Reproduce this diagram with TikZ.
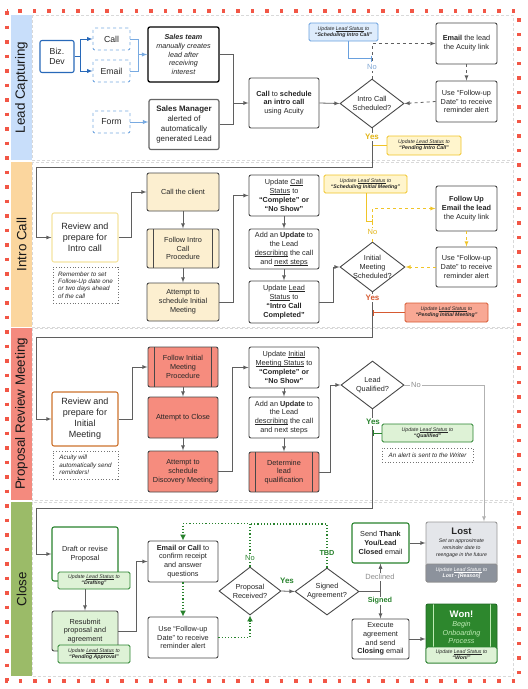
\documentclass[tikz,border=0pt]{standalone}
\usepackage{fontspec}
\setmainfont{Liberation Sans}
\usetikzlibrary{shapes.geometric,arrows.meta}

\definecolor{redbd}{RGB}{242,86,70}
\definecolor{laneblue}{RGB}{200,222,250}
\definecolor{laneorange}{RGB}{251,214,158}
\definecolor{lanesalmon}{RGB}{244,138,126}
\definecolor{lanegreen}{RGB}{155,187,104}
\definecolor{boxgray}{RGB}{72,72,72}
\definecolor{linegray}{RGB}{95,95,95}
\definecolor{bizblue}{RGB}{40,105,185}
\definecolor{dashblue}{RGB}{120,170,225}
\definecolor{updblue}{RGB}{105,160,222}
\definecolor{updbluefill}{RGB}{222,236,252}
\definecolor{nolblue}{RGB}{125,165,212}
\definecolor{yel}{RGB}{240,196,40}
\definecolor{yelfill}{RGB}{255,245,205}
\definecolor{yesyel}{RGB}{226,180,20}
\definecolor{beige}{RGB}{252,239,208}
\definecolor{paleyel}{RGB}{245,228,160}
\definecolor{salmon}{RGB}{246,140,126}
\definecolor{orangebd}{RGB}{205,115,45}
\definecolor{redorange}{RGB}{214,90,50}
\definecolor{redorangefill}{RGB}{248,168,148}
\definecolor{grn}{RGB}{40,130,45}
\definecolor{lgreen}{RGB}{222,242,214}
\definecolor{wongreen}{RGB}{45,135,45}
\definecolor{wonlight}{RGB}{190,235,180}
\definecolor{lostfill}{RGB}{228,230,234}
\definecolor{lostdark}{RGB}{140,146,156}

% underline set close to the baseline
\newcommand{\ulin}[1]{\setbox0=\hbox{#1}\leavevmode\rlap{\rule[-0.13em]{\wd0}{0.06em}}\box0\relax}

\begin{document}
\begin{tikzpicture}[x=1pt,y=-1pt,>=latex,
	base/.style={align=center,text=black!85,inner sep=0pt,
		font=\fontsize{7.3}{8.8}\selectfont},
	sz/.style 2 args={minimum width=#1,minimum height=#2},
	box/.style={base,draw=boxgray,line width=0.9pt,rounded corners=2pt,fill=white},
	proc/.style={box,path picture={
		\draw[boxgray,line width=0.8pt]
		([xshift=6.5pt]path picture bounding box.north west) --
		([xshift=6.5pt]path picture bounding box.south west)
		([xshift=-6.5pt]path picture bounding box.north east) --
		([xshift=-6.5pt]path picture bounding box.south east);}},
	wonbox/.style={base,draw=grn!80!black,fill=wongreen,line width=0.9pt,
		rounded corners=2pt,path picture={
		\draw[wonlight,line width=0.6pt]
		([xshift=7pt]path picture bounding box.north west) --
		([xshift=7pt]path picture bounding box.south west)
		([xshift=-7pt]path picture bounding box.north east) --
		([xshift=-7pt]path picture bounding box.south east);}},
	chan/.style={base,draw=dashblue,dashed,line width=0.9pt,rounded corners=2pt,
		minimum width=37,minimum height=22,font=\fontsize{8.7}{10}\selectfont},
	decision/.style={diamond,draw=boxgray,line width=0.9pt,fill=white,inner sep=0pt},
	badge/.style={base,rounded corners=1.5pt,line width=0.8pt,
		font=\fontsize{5.2}{6.2}\selectfont\itshape},
	note/.style={base,align=left,draw=black!55,dotted,line width=0.8pt,
		font=\fontsize{6.3}{7.3}\selectfont\itshape},
	review/.style={box,line width=1.1pt,font=\fontsize{9}{11}\selectfont},
	arr/.style={->,draw=linegray,line width=0.8pt},
	seg/.style={draw=linegray,line width=0.8pt},
	gdot/.style={draw=grn,line width=1.2pt,dotted,-{Latex[length=6pt,width=6pt]}},
	tick/.style={-{Bar[width=6pt]},line width=0.9pt},
	lbl/.style={base,fill=white,inner sep=1pt,font=\fontsize{7.5}{9}\selectfont},
	ylbl/.style={lbl,font=\fontsize{8}{9}\selectfont\bfseries},
	lanebd/.style={draw=black!15,densely dashed,line width=0.6pt},
	lanetitle/.style={rotate=90,font=\fontsize{13.4}{15}\selectfont,text=black!90}]
	\useasboundingbox (0,0) rectangle (528,689);
	% lanes
	\foreach \yt/\yb/\col/\ttl in {15/160/laneblue/Lead Capturing,162/327/laneorange/Intro Call,328/500/lanesalmon/Proposal Review Meeting,502/676/lanegreen/Close}
	{
		\fill[\col] (11,\yt) rectangle (32,\yb);
		\draw[lanebd] (32,\yt) rectangle (513,\yb);
		\node[lanetitle] (lane\yt) at (21.5,{(\yt+\yb)/2}) {\ttl};
	}
	\draw[redbd,line width=3.5pt,dash pattern=on 3.5pt off 11pt] (7,11) rectangle (519,681);

	% lead capturing
	\node[box,sz={34}{32},draw=bizblue,line width=1.1pt,
	font=\fontsize{8.7}{10.5}\selectfont] (biz) at (57,56.5) {Biz.\\Dev};
	\node[chan] (call) at (111.5,39) {Call};
	\node[chan] (email) at (111.5,71) {Email};
	\node[chan] (form) at (111.5,122) {Form};
	\node[box,sz={71}{55},draw=black,line width=1.3pt,
	font=\fontsize{7.2}{8.7}\selectfont\itshape] (team) at (183.5,54.5)
	{\textbf{Sales team}\\manually creates\\lead after\\receiving\\interest};
	\node[box,sz={70}{50},draw=black!60,line width=1.2pt,
	font=\fontsize{7.9}{9.7}\selectfont] (mgr) at (184,124.5)
	{\textbf{Sales Manager}\\alerted of\\automatically\\generated Lead};
	\node[box,sz={70}{50}] (sched) at (284,103)
	{\textbf{Call} to \textbf{schedule}\\\textbf{an intro call}\\using Acuity};
	\node[decision,sz={64}{49}] (qintro) at (372,103.5) {};
	\node[base] (qintrotxt) at (qintro) {Intro Call\\Scheduled?};
	\node[badge,sz={69}{18},draw=updblue,fill=updbluefill] (stintro) at (343.5,32)
	{Update \ulin{Lead Status} to\\\textbf{``Scheduling Intro Call''}};
	\node[box,sz={61}{41}] (mailintro) at (466.5,43.5) {\textbf{Email} the lead\\the Acuity link};
	\node[box,sz={61}{41}] (remintro) at (466.5,101.5)
	{Use ``Follow-up\\Date'' to receive\\reminder alert};
	\node[badge,sz={74}{19},draw=yel,fill=yelfill] (stpintro) at (424,145.5)
	{Update \ulin{Lead Status} to\\\textbf{``Pending Intro Call''}};

	\draw[->,draw=bizblue,line width=0.9pt] (biz.east) -- ++(6,0) |- (call.west);
	\draw[->,draw=bizblue,line width=0.9pt] (biz.east) -- ++(6,0) |- (email.west);
	\draw[draw=dashblue,line width=0.9pt] (call.east) -| ([xshift=-9pt]team.west);
	\draw[->,draw=dashblue,line width=0.9pt] (email.east) -| ([xshift=-9pt]team.west) -- (team.west);
	\draw[->,draw=dashblue,line width=0.9pt] (form.east) -- (form.east -| mgr.west);
	\draw[seg] (team.east) -| ([xshift=-15pt]sched.west);
	\draw[arr] (mgr.east) -| ([xshift=-15pt]sched.west) -- (sched.west);
	\draw[arr] (sched.east) -- (qintro.west);
	\draw[arr,dashed] (qintro.north) |- (mailintro.west);
	\draw[arr,dashed] (mailintro.south) -- (remintro.north);
	\draw[arr,dashed] (remintro.west) -- (qintro.east);
	\draw[tick,draw=updblue] ([xshift=4.5pt]stintro.south) |- ([yshift=20pt]qintro.north);
	\draw[tick,draw=yel] (stpintro.west) -- (stpintro.west -| qintro.south);
	\node[lbl,text=nolblue] (nointro) at (372,67) {No};

	% intro call
	\node[review,sz={66}{49},draw=paleyel] (revintro) at (85,237.5) {Review and\\prepare for\\Intro call};
	\node[note,sz={65}{36}] (noteintro) at (85.5,285)
	{Remember to set\\Follow-Up date one\\or two days ahead\\of the call};
	\node[box,sz={72}{38},fill=beige] (client) at (183,192) {Call the client};
	\node[proc,sz={72}{39},fill=beige] (procintro) at (183,248.5) {Follow Intro\\Call\\Procedure};
	\node[box,sz={72}{38},fill=beige] (tryintro) at (183,302) {Attempt to\\schedule Initial\\Meeting};
	\node[box,sz={70}{41}] (stcall) at (284,195.5)
	{Update \ulin{Call}\\\ulin{Status} to\\\textbf{``Complete'' or}\\\textbf{``No Show''}};
	\node[box,sz={70}{40}] (addintro) at (284,249)
	{Add an \textbf{Update} to\\the Lead\\\ulin{describing} the call\\and \ulin{next steps}};
	\node[box,sz={70}{42}] (stlead) at (284,302)
	{Update \ulin{Lead}\\\ulin{Status} to\\\textbf{``Intro Call}\\\textbf{Completed''}};
	\node[decision,sz={65}{50}] (qmeet) at (372.5,267) {};
	\node[base] (qmeettxt) at (qmeet) {Initial\\Meeting\\Scheduled?};
	\node[badge,sz={83}{18},draw=yel,fill=yelfill] (stsched) at (365.5,184)
	{Update \ulin{Lead Status} to\\\textbf{``Scheduling Initial Meeting''}};
	\node[box,sz={61}{45}] (mailmeet) at (466.5,208.5)
	{\textbf{Follow Up}\\\textbf{Email the lead}\\the Acuity link};
	\node[box,sz={61}{40}] (remmeet) at (466.5,267)
	{Use ``Follow-up\\Date'' to receive\\reminder alert};
	\node[badge,sz={83}{19},draw=redorange,fill=redorangefill] (stpmeet) at (446.5,312.5)
	{Update \ulin{Lead Status} to\\\textbf{``Pending Initial Meeting''}};

	\draw[arr] (qintro.south) |- (36,167) |- (revintro.west);
	\draw[arr] (revintro.east) -- ++(13,0) |- (client.west);
	\draw[arr] (client.south) -- (procintro.north);
	\draw[arr] (procintro.south) -- (tryintro.north);
	\draw[arr] (tryintro.east) -- ++(14,0) |- (stcall.west);
	\draw[arr] (stcall.south) -- (addintro.north);
	\draw[arr] (addintro.south) -- (stlead.north);
	\draw[arr] (stlead.east) -- ++(14,0) |- (qmeet.west);
	\draw[arr,draw=yel,dashed] (qmeet.north) |- (mailmeet.west);
	\draw[arr,draw=yel,dashed] (mailmeet.south) -- (remmeet.north);
	\draw[arr,draw=yel,dashed] (remmeet.west) -- (qmeet.east);
	\draw[tick,draw=yel] ([xshift=0.5pt]stsched.south) |- ([yshift=20pt]qmeet.north);
	\draw[tick,draw=redorange] (stpmeet.west) -- (stpmeet.west -| qmeet.south);
	\node[ylbl,text=yesyel] (yesintro) at (372,137) {Yes};
	\node[lbl,text=yesyel] (nomeet) at (372.5,232) {No};

	% proposal review meeting
	\node[review,sz={66}{54},draw=orangebd] (revmeet) at (85,419) {Review and\\prepare for\\Initial\\Meeting};
	\node[note,sz={65}{28}] (notemeet) at (85.5,465)
	{Acuity will\\automatically send\\reminders!};
	\node[proc,sz={70}{40},fill=salmon] (procmeet) at (183,367) {Follow Initial\\Meeting\\Procedure};
	\node[box,sz={70}{41},fill=salmon] (tryclose) at (183,417.5) {Attempt to Close};
	\node[box,sz={70}{41},fill=salmon] (trydisc) at (183,471.5)
	{Attempt to\\schedule\\Discovery Meeting};
	\node[box,sz={70}{41}] (stmeet) at (284,367.5)
	{Update \ulin{Initial}\\\ulin{Meeting Status} to\\\textbf{``Complete'' or}\\\textbf{``No Show''}};
	\node[box,sz={70}{41}] (addmeet) at (284,417.5)
	{Add an \textbf{Update} to\\the Lead\\\ulin{describing} the call\\and next steps};
	\node[proc,sz={70}{40},fill=salmon] (determine) at (284,472) {Determine\\lead\\qualification};
	\node[decision,sz={63}{48}] (qqual) at (372.5,385) {};
	\node[base] (qqualtxt) at (qqual) {Lead\\Qualified?};
	\node[badge,sz={91}{18},draw=grn,fill=lgreen] (stqual) at (427.5,433)
	{Update \ulin{Lead Status} to\\\textbf{``Qualified''}};
	\node[note,align=center,sz={91}{14}] (notequal) at (427.5,455) {An alert is sent to the Writer};

	\draw[arr] (qmeet.south) |- (36,337) |- (revmeet.west);
	\draw[arr] (revmeet.east) -- ++(14,0) |- (procmeet.west);
	\draw[arr] (procmeet.south) -- (tryclose.north);
	\draw[arr] (tryclose.south) -- (trydisc.north);
	\draw[arr] (trydisc.east) -- ++(14,0) |- (stmeet.west);
	\draw[arr] (stmeet.south) -- (addmeet.north);
	\draw[arr] (addmeet.south) -- (determine.north);
	\draw[arr] (determine.east) -- ++(11,0) |- (qqual.west);
	\draw[tick,draw=grn] (stqual.west) -- (stqual.west -| qqual.south);
	\node[ylbl,text=redorange] (yesmeet) at (372.5,298) {Yes};

	% close
	\node[box,sz={66}{54},draw=grn,line width=1.1pt] (draft) at (85,554) {Draft or revise\\Proposal};
	\node[badge,sz={72}{17},draw=grn,fill=lgreen] (stdraft) at (94,580.5)
	{Update \ulin{Lead Status} to\\\textbf{``Drafting''}};
	\node[box,sz={66}{40},fill=lgreen] (resub) at (85,631) {Resubmit\\proposal and\\agreement};
	\node[badge,sz={72}{18},draw=grn,fill=lgreen] (stappr) at (94,654)
	{Update \ulin{Lead Status} to\\\textbf{``Pending Approval''}};
	\node[box,sz={70}{41}] (confirm) at (183,561.5)
	{\textbf{Email or Call} to\\confirm receipt\\and answer\\questions};
	\node[box,sz={70}{41}] (remclose) at (183,637.5)
	{Use ``Follow-up\\Date'' to receive\\reminder alert};
	\node[decision,sz={62}{48}] (qrecv) at (250,591) {};
	\node[base] (qrecvtxt) at (qrecv) {Proposal\\Received?};
	\node[decision,sz={64}{47}] (qsign) at (327,591.5) {};
	\node[base] (qsigntxt) at (qsign) {Signed\\Agreement?};
	\node[box,sz={57}{40},draw=grn,line width=1.1pt] (thanks) at (380.5,543)
	{Send \textbf{Thank}\\\textbf{You/Lead}\\\textbf{Closed} email};
	\node[box,sz={57}{40}] (exec) at (380.5,639)
	{Execute\\agreement\\and send\\\textbf{Closing} email};
	\node[box,sz={71}{60},draw=black!40,fill=lostfill] (lost) at (461.5,552) {};
	\node[base,font=\fontsize{9.5}{11}\selectfont\bfseries] (losttitle) at (461.5,531) {Lost};
	\node[base,font=\fontsize{5.2}{6.7}\selectfont\itshape] (losttext) at (461.5,548)
	{Set an approximate\\reminder date to\\reengage in the future};
	\node[badge,sz={71}{18},draw=black!45,fill=lostdark,text=white] (stlost) at (461.5,573)
	{Update \ulin{Lead Status} to\\\textbf{Lost - [Reason]}};
	\node[wonbox,sz={71}{59}] (won) at (461.5,633.5) {};
	\node[base,text=white,font=\fontsize{9.5}{11}\selectfont\bfseries] (wontitle) at (461.5,614) {Won!};
	\node[base,text=wonlight,font=\fontsize{7.2}{8.7}\selectfont\itshape] (wontext) at (461.5,632.7)
	{Begin\\Onboarding\\Process};
	\node[badge,sz={71}{16},draw=grn,fill=lgreen] (stwon) at (461.5,655)
	{Update \ulin{Lead Status} to\\\textbf{``Won!''}};

	\draw[arr] (qqual.south) |- (36,508) |- (draft.west);
	\draw[arr,draw=black!30] (qqual.east) -| ([xshift=22.5pt]lost.north);
	\draw[arr] (draft.south |- stdraft.south) -- (resub.north);
	\draw[arr] (resub.east) -- ++(18,0) |- (confirm.west);
	\draw[gdot] (confirm.south) -- (remclose.north);
	\draw[gdot] (remclose.east) -| (qrecv.south);
	\draw[gdot] (qrecv.north) |- ([yshift=17pt]confirm.north) -- (confirm.north);
	\draw[draw=grn,line width=1.2pt,dotted] (qsign.north) -- ++(0,-43.5) -- ++(-77,0);
	\draw[arr] (qrecv.east) -- (qsign.west);
	\draw[arr] (qsign.east) -| (thanks.south);
	\draw[arr] (qsign.east) -| (exec.north);
	\draw[arr] (thanks.east) -- (thanks.east -| lost.west);
	\draw[arr] (exec.east) -- (exec.east -| won.west);
	\node[ylbl,text=grn] (yesqual) at (373,422) {Yes};
	\node[lbl,text=black!45] (noqual) at (416,385) {No};
	\node[lbl,text=grn] (norecv) at (250,558) {No};
	\node[ylbl,text=grn,fill=none] (yesrecv) at (287,581) {Yes};
	\node[ylbl,text=grn,font=\fontsize{7.3}{9}\selectfont\bfseries] (tbd) at (327,553) {TBD};
	\node[lbl,text=black!45] (declined) at (380,577) {Declined};
	\node[ylbl,text=grn,font=\fontsize{7.3}{9}\selectfont\bfseries] (signed) at (380,601) {Signed};
\end{tikzpicture}
\end{document}
